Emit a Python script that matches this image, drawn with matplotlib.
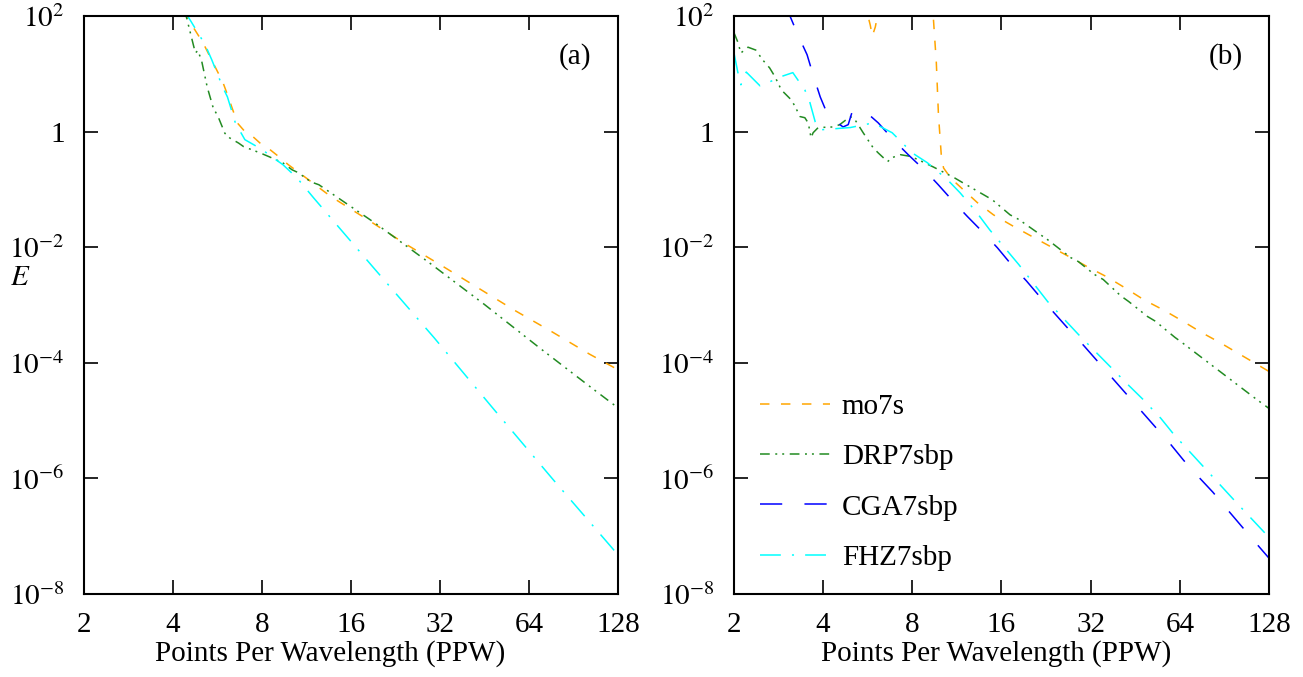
import matplotlib.pyplot as plt
from matplotlib.ticker import NullLocator

plt.rcParams["font.family"] = ["Liberation Serif", "DejaVu Serif"]
plt.rcParams["mathtext.fontset"] = "stix"
plt.rcParams["lines.scale_dashes"] = False

# panel (a): points per wavelength and log10 of the error E
a_mo7s_ppw = [4.35, 4.43, 5.06, 5.34, 5.89, 6.11, 6.6, 7.0, 7.46, 8.0, 8.5, 9.2, 9.8,
              10.8, 13.64, 18.16, 24.2, 32.2, 42.9, 57.1, 76.9, 102.5, 128]
a_mo7s_log = [2.1, 2.0, 1.53, 1.29, 0.86, 0.64, 0.15, 0.0, -0.09, -0.23, -0.31, -0.45, -0.57,
              -0.73, -1.12, -1.52, -1.93, -2.31, -2.70, -3.09, -3.47, -3.85, -4.12]

a_drp_ppw = [4.35, 4.43, 4.76, 4.85, 4.99, 5.22, 5.47, 5.68, 5.99, 6.22, 6.67, 6.93, 7.89,
             8.5, 9.4, 10.1, 10.6, 11.7, 12.46, 19.38, 29.8, 45.2, 69.4, 105.2, 128]
a_drp_log = [2.1, 2.0, 1.36, 1.40, 1.24, 0.77, 0.41, 0.26, -0.03, -0.11, -0.20, -0.26, -0.37,
             -0.44, -0.54, -0.66, -0.71, -0.87, -0.92, -1.59, -2.29, -2.99, -3.74, -4.45, -4.78]

a_fhz_ppw = [4.35, 4.57, 5.14, 5.41, 5.89, 6.11, 6.5, 7.0, 8.0, 8.7, 9.4, 10.5, 11.97,
             19.1, 30.6, 48.2, 76.9, 123, 128]
a_fhz_log = [2.1, 1.93, 1.5, 1.24, 0.77, 0.6, 0.15, -0.14, -0.31, -0.45, -0.57, -0.80, -1.15,
             -2.36, -3.57, -4.78, -6.01, -7.22, -7.33]

# panel (b)
b_mo7s_ppw = [5.6, 5.68, 5.77, 5.86, 6.0, 6.1, 6.3, 9.2, 9.42, 9.64, 9.8, 10.03, 10.2, 10.6,
              11.18, 13.27, 15.03, 17.43, 20.37, 23.43, 26.97, 31.5, 36.5, 42.0, 48.4, 56.5,
              65.5, 75.4, 87.4, 128]
b_mo7s_log = [2.3, 1.98, 1.84, 1.65, 1.81, 2.0, 2.3, 2.3, 1.97, 1.2, 0.3, -0.44, -0.63, -0.75,
              -0.88, -1.23, -1.44, -1.63, -1.82, -1.99, -2.16, -2.35, -2.52, -2.71, -2.91, -3.09,
              -3.28, -3.47, -3.65, -4.15]

b_drp_ppw = [2.0, 2.06, 2.11, 2.23, 2.37, 2.5, 2.64, 2.75, 2.86, 2.93, 3.12, 3.22, 3.34, 3.47,
             3.56, 3.61, 3.64, 3.70, 3.85, 4.33, 4.55, 4.94, 5.13, 5.46, 5.9, 6.14, 6.6, 6.84,
             7.3, 7.9, 8.4, 9.4, 11.1, 11.8, 13.9, 14.9, 17.1, 18.3, 21.6, 22.9, 27.4, 29.1,
             32.9, 35.3, 40.4, 43.0, 49.8, 52.9, 61.6, 65.1, 116, 128]
b_drp_log = [1.71, 1.55, 1.36, 1.46, 1.41, 1.24, 1.10, 0.95, 0.77, 0.69, 0.55, 0.43, 0.26, 0.24,
             0.15, 0.0, -0.11, -0.02, 0.07, 0.08, 0.12, 0.26, 0.20, -0.02, -0.28, -0.37, -0.52, -0.45,
             -0.40, -0.43, -0.49, -0.61, -0.80, -0.88, -1.09, -1.18, -1.44, -1.52, -1.78, -1.87, -2.18, -2.25,
             -2.47, -2.56, -2.84, -2.94, -3.20, -3.28, -3.56, -3.65, -4.63, -4.79]

b_cga_ppw = [3.0, 3.09, 3.29, 3.53, 3.70, 3.91, 4.16, 4.67, 4.86, 5.01, 5.46, 5.63, 6.14, 6.90,
             7.75, 8.85, 9.79, 11.0, 12.28, 13.9, 15.5, 17.4, 19.4, 22.0, 27.2, 30.3, 53.1, 58.7,
             66.0, 73.6, 82.8, 91.6, 113.9, 128]
b_cga_log = [2.2, 2.0, 1.67, 1.33, 0.98, 0.60, 0.27, 0.08, 0.12, 0.34, 0.29, 0.32, 0.15, -0.14,
             -0.40, -0.68, -0.92, -1.21, -1.47, -1.75, -2.01, -2.32, -2.58, -2.91, -3.44, -3.70, -5.12, -5.37,
             -5.69, -5.96, -6.24, -6.51, -7.08, -7.38]

b_fhz_ppw = [2.0, 2.06, 2.11, 2.2, 2.45, 2.64, 2.88, 3.16, 3.29, 3.47, 3.61, 3.76, 3.91, 4.94,
             5.9, 6.84, 8.0, 9.0, 10.5, 11.6, 13.2, 14.6, 18.3, 22.9, 29.1, 43.0, 48.0, 55.2, 61.1,
             99, 128]
b_fhz_log = [1.36, 1.03, 0.81, 1.03, 0.79, 0.86, 0.95, 1.02, 0.89, 0.72, 0.50, 0.17, 0.03, 0.07,
             0.15, -0.02, -0.37, -0.54, -0.83, -1.06, -1.40, -1.70, -2.30, -2.94, -3.51, -4.39, -4.63, -4.96, -5.24,
             -6.41, -7.02]

labels = ["mo7s", "DRP7sbp", "CGA7sbp", "FHZ7sbp"]
x_ticks = [2, 4, 8, 16, 32, 64, 128]
y_ticks = [1e2, 1, 1e-2, 1e-4, 1e-6, 1e-8]
y_tick_labels = [r"$10^{2}$", "1", r"$10^{-2}$", r"$10^{-4}$", r"$10^{-6}$", r"$10^{-8}$"]

styles = {
    "mo7s": dict(color="#ffa500", dashes=(6.8, 8.3)),
    "DRP7sbp": dict(color="#228b22", dashes=(7, 4, 1.4, 3.6, 1.4, 4)),
    "CGA7sbp": dict(color="#0000ff", dashes=(16, 16)),
    "FHZ7sbp": dict(color="#00ffff", dashes=(15, 8, 1.5, 8)),
}

panel_a = [("mo7s", a_mo7s_ppw, a_mo7s_log),
           ("DRP7sbp", a_drp_ppw, a_drp_log),
           ("FHZ7sbp", a_fhz_ppw, a_fhz_log)]
panel_b = [("mo7s", b_mo7s_ppw, b_mo7s_log),
           ("DRP7sbp", b_drp_ppw, b_drp_log),
           ("CGA7sbp", b_cga_ppw, b_cga_log),
           ("FHZ7sbp", b_fhz_ppw, b_fhz_log)]


def setup_axes(ax, tag, label_x):
    ax.set_xscale("log", base=2)
    ax.set_yscale("log")
    ax.set_xlim(2, 128)
    ax.set_ylim(1e-8, 1e2)
    ax.set_xticks(x_ticks)
    ax.set_xticklabels([str(t) for t in x_ticks])
    ax.set_yticks(y_ticks)
    ax.set_yticklabels(y_tick_labels)
    ax.xaxis.set_minor_locator(NullLocator())
    ax.yaxis.set_minor_locator(NullLocator())
    ax.tick_params(direction="in", top=True, right=True, length=10, width=1.2, labelsize=21)
    ax.tick_params(axis="x", pad=13)
    ax.tick_params(axis="y", pad=14)
    for s in ax.spines.values():
        s.set_linewidth(1.5)
    ax.set_xlabel("Points Per Wavelength (PPW)", fontsize=21)
    ax.xaxis.set_label_coords(label_x, -0.08)
    ax.text(0.919, 0.929, tag, transform=ax.transAxes, fontsize=21, ha="center", va="center")


def draw(ax, series):
    lines = {}
    for name, ppw, loge in series:
        e = [10.0 ** v for v in loge]
        (ln,) = ax.plot(ppw, e, lw=1.1, label=name, **styles[name])
        lines[name] = ln
    return lines


fig = plt.figure(figsize=(13.03, 6.77), dpi=100)
ax1 = fig.add_axes([0.0645, 0.1226, 0.4098, 0.8538])
ax2 = fig.add_axes([0.5633, 0.1226, 0.4106, 0.8538])

setup_axes(ax1, "(a)", 0.461)
setup_axes(ax2, "(b)", 0.49)
draw(ax1, panel_a)
lines_b = draw(ax2, panel_b)

ax1.text(-0.12, 0.547, r"$E$", transform=ax1.transAxes, fontsize=21, ha="center", va="center")

ax2.legend([lines_b[n] for n in labels], labels, loc="lower left", bbox_to_anchor=(0.049, 0.04),
           frameon=False, fontsize=21, handlelength=2.4, handletextpad=0.4,
           labelspacing=0.82, borderpad=0, borderaxespad=0)

fig.savefig("out.png", dpi=100)
